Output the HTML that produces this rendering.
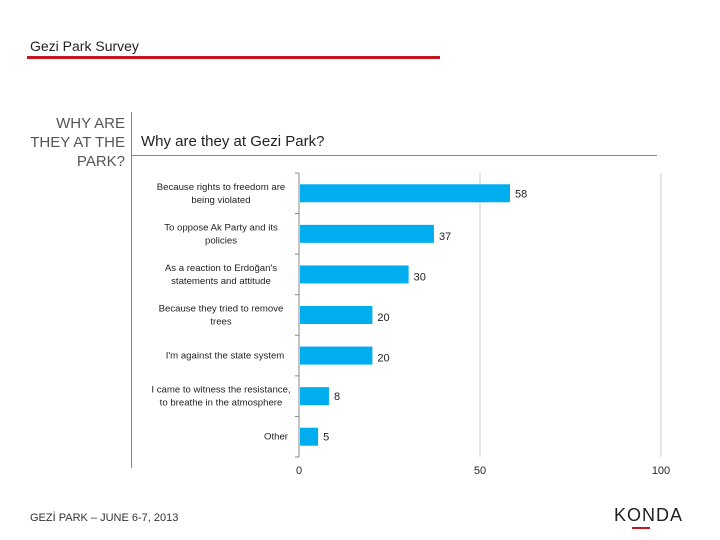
<!DOCTYPE html>
<html><head><meta charset="utf-8"><style>
body{margin:0;width:720px;height:540px;background:#fff;font-family:"Liberation Sans",sans-serif;overflow:hidden;position:relative}
.t{position:absolute;white-space:nowrap}
</style></head><body>
<div class="t" style="left:30px;top:38px;font-size:14px;color:#222">Gezi Park Survey</div>
<div style="position:absolute;left:27px;top:56px;width:413px;height:3px;background:#c4161c"></div>
<div class="t" style="left:0px;top:114px;width:125px;text-align:right;font-size:15px;line-height:19px;color:#555">WHY ARE<br>THEY AT THE<br>PARK?</div>
<div style="position:absolute;left:131px;top:112px;width:1px;height:356px;background:#888"></div>
<div style="position:absolute;left:132px;top:155px;width:525px;height:1px;background:#888"></div>
<div class="t" style="left:141px;top:133px;font-size:15px;color:#222">Why are they at Gezi Park?</div>
<div class="t" style="left:30px;top:512px;font-size:11px;color:#333">GEZİ PARK – JUNE 6-7, 2013</div>
<div class="t" style="left:614px;top:505px;font-size:18px;color:#222;letter-spacing:1px">KONDA</div>
<div style="position:absolute;left:632px;top:527px;width:18px;height:2px;background:#c4161c"></div>
<svg id="chart" width="720" height="540" style="position:absolute;left:0;top:0"></svg>
<script>
const categories=["Because rights to freedom are|being violated","To oppose Ak Party and its|policies","As a reaction to Erdoğan's|statements and attitude","Because they tried to remove|trees","I'm against the state system","I came to witness the resistance,|to breathe in the atmosphere","Other"];
const values=[58,37,30,20,20,8,5];
const ticks=[0,50,100];
const svg=document.getElementById('chart');const NS='http://www.w3.org/2000/svg';
const x0=299,x1=661,yTop=173,yBot=457;
const X=v=>x0+(x1-x0)*v/100;
const band=(yBot-yTop)/categories.length;
function mk(t,a){const e=document.createElementNS(NS,t);for(const k in a)e.setAttribute(k,a[k]);svg.appendChild(e);return e;}
ticks.forEach(t=>{
 if(t>0){const g=mk('line',{x1:X(t),x2:X(t),y1:yTop,y2:yBot,stroke:'#ccc'});}
 const l=mk('text',{x:X(t),y:yBot+17,'font-size':11,'text-anchor':'middle',fill:'#222','font-family':'Liberation Sans'});l.textContent=t;
 
});
const ax=mk('line',{x1:x0,x2:x0,y1:yTop,y2:yBot,stroke:'#888'});
for(let i=0;i<=categories.length;i++){const tk=mk('line',{x1:x0-4,x2:x0,y1:yTop+i*band,y2:yTop+i*band,stroke:'#888'});}
categories.forEach((c,i)=>{
 const cy=yTop+band*(i+0.5);
 const r=mk('rect',{x:x0+1,y:cy-9,width:X(values[i])-x0,height:18,fill:'#00aeef'});
 
 const v=mk('text',{x:X(values[i])+6,y:cy+4+(i>0&&i<5?2:0),'font-size':11,fill:'#222','font-family':'Liberation Sans'});v.textContent=values[i];
 
 const lines=c.split('|');
 const cx=i==6?276:(i==4?225:221);
 const lb=mk('text',{x:cx,y:cy-(lines.length-1)*6.5+3,'font-size':9.6,'text-anchor':'middle',fill:'#222','font-family':'Liberation Sans'});
 
 lines.forEach((s,j)=>{const ts=document.createElementNS(NS,'tspan');ts.setAttribute('x',cx);ts.setAttribute('dy',j?13:0);ts.textContent=s;lb.appendChild(ts);});
});
</script>
</body></html>
